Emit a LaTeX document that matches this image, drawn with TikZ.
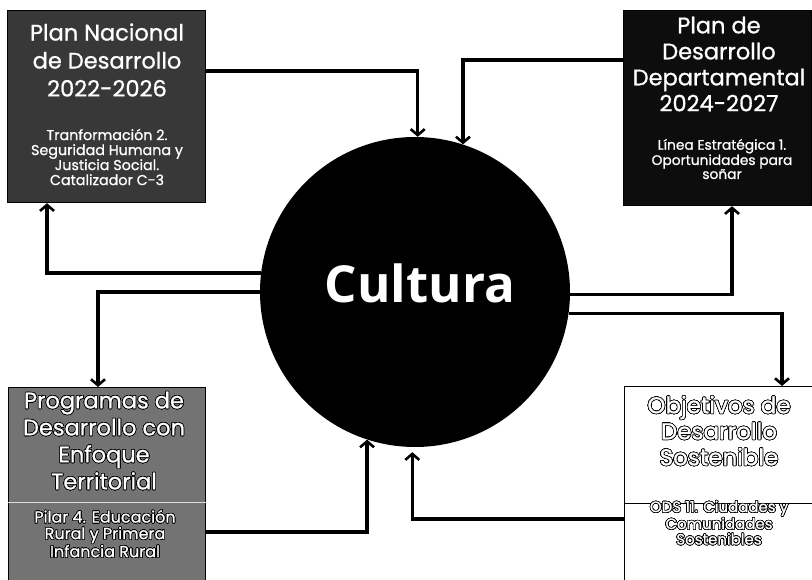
\documentclass[tikz,border=0pt]{standalone}
\usepackage{fontspec}
\usepackage[copies]{contour}
\usetikzlibrary{arrows.meta,calc}
\newfontfamily\boxfont{Poppins}[FakeBold=0.9]
\newfontfamily\cultfont{Open Sans}
\contourlength{0.7pt}
\contournumber{16}
\tikzset{
  panel/.style={draw=black, line width=1.2pt, minimum width=#1, inner sep=0pt, anchor=north west},
  ttl/.style={text=white, align=center, font=\boxfont\fontsize{22.5}{27}\selectfont, inner sep=0pt},
  sub/.style={text=white, align=center, font=\boxfont\fontsize{14.3}{15}\selectfont, inner sep=0pt},
  conn/.style={draw=black, line width=3.4pt, -{Straight Barb[length=6pt,width=14pt,line width=2.6pt]}},
}
\newcommand{\oline}[1]{\contour{black}{#1}}
\begin{document}
\begin{tikzpicture}[x=1pt,y=-1pt]
\useasboundingbox (0,0) rectangle (812,580);
\fill[white] (0,0) rectangle (812,580);
% panels
\node[panel=198pt, minimum height=192pt, fill=black!78] (tl) at (7,10) {};
\node[panel=188pt, minimum height=195pt, fill=black!95] (tr) at (623,10) {};
\node[panel=197pt, minimum height=200pt, fill=black!55] (bl) at (8,387) {};
\node[panel=195pt, minimum height=200pt, fill=white] (br) at (624,386) {};
\draw[gray!25, line width=1pt] (bl.west |- 0,502) -- (bl.east |- 0,502);
\draw[black, line width=1pt] (br.west |- 0,503) -- (br.east |- 0,503);
% circle
\node[circle, fill=black, minimum size=310pt, inner sep=0pt] (c) at (415,292) {};
\node[text=white, font=\cultfont\bfseries\fontsize{51}{51}\selectfont, inner sep=0pt] (cult) at (420,283) {Cultura};
% texts
\node[ttl, font=\boxfont\fontsize{22.5}{28}\selectfont] (tlt) at (107,60) {Plan Nacional\\de Desarrollo\\2022-2026};
\node[sub] (tls) at (107,157) {Tranformación 2.\\Seguridad Humana y\\Justicia Social.\\Catalizador C-3};
\node[ttl, font=\boxfont\fontsize{22.5}{26}\selectfont] (trt) at (719,64) {Plan de\\Desarrollo\\Departamental\\2024-2027};
\node[sub, font=\boxfont\fontsize{13.8}{14}\selectfont] (trs) at (722,159) {Línea Estratégica 1.\\Oportunidades para\\soñar};
\node[ttl] (blt) at (104,441) {\oline{Programas de}\\\oline{Desarrollo con}\\\oline{Enfoque}\\\oline{Territorial}};
\node[sub, font=\boxfont\fontsize{16}{16.5}\selectfont] (bls) at (105,534) {\oline{Pilar 4. Educación}\\\oline{Rural y Primera}\\\oline{Infancia Rural}};
\node[ttl, font=\boxfont\fontsize{23}{26}\selectfont] (brt) at (719,431) {\oline{Objetivos de}\\\oline{Desarrollo}\\\oline{Sostenible}};
\node[sub, font=\boxfont\fontsize{15}{15.5}\selectfont] (brs) at (719,523) {\oline{ODS 11. Ciudades y}\\\oline{Comunidades}\\\oline{Sostenibles}};
% connector ports
\coordinate (tlout) at (205,71);
\coordinate (trout) at (623,60);
\coordinate (blout) at (205,532);
\coordinate (brout) at (624,519);
% connectors
\draw[conn] (tlout) -| (c.89);
\draw[conn] (trout) -| (c.72);
\draw[conn] (c.173.7) -| ($(tl.south west)+(40,0)$);
\draw[conn] (c.180) -| ($(bl.north west)+(90,0)$);
\draw[conn] (c.-1.8) -| ($(tr.south west)+(109,0)$);
\draw[conn] (c.-8.9) -| ($(br.north west)+(158,0)$);
\draw[conn] (blout) -| (c.-108.3);
\draw[conn, shorten >=5pt] (brout) -| (c.-91);
\end{tikzpicture}
\end{document}
